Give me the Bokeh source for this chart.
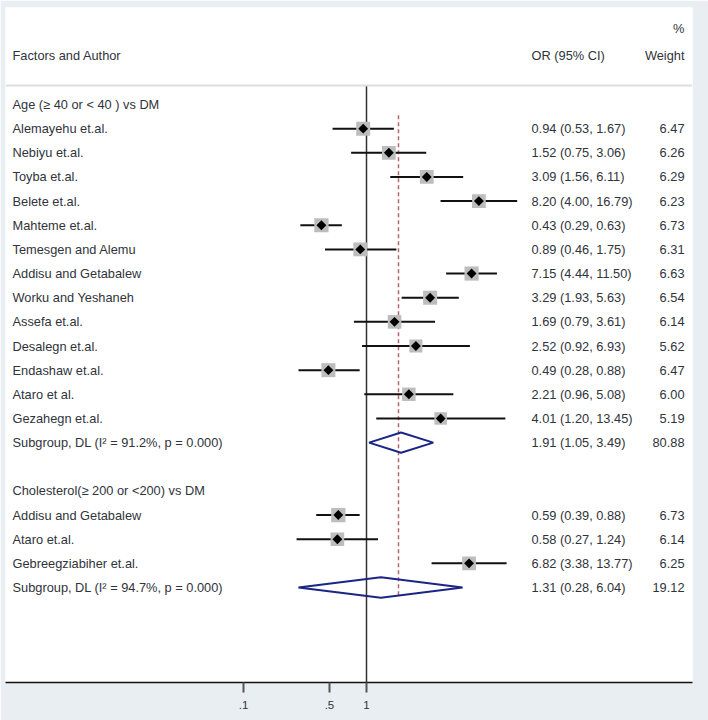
import math
from bokeh.plotting import figure
from bokeh.models import Range1d, FixedTicker, Span, ColumnDataSource, CustomJSTickFormatter
from bokeh.embed import file_html
from bokeh.resources import INLINE
from bokeh.core.properties import value

# ---------------- data ----------------
group_titles = ["Age (\u2265 40 or < 40 ) vs DM", "Cholesterol(\u2265 200 or <200) vs DM"]

age_authors = ["Alemayehu et.al.", "Nebiyu et.al.", "Toyba et.al.", "Belete et.al.",
               "Mahteme et.al.", "Temesgen and Alemu", "Addisu and Getabalew",
               "Worku and Yeshaneh", "Assefa et.al.", "Desalegn et.al.",
               "Endashaw et.al.", "Ataro et al.", "Gezahegn et.al."]
age_or = [0.94, 1.52, 3.09, 8.20, 0.43, 0.89, 7.15, 3.29, 1.69, 2.52, 0.49, 2.21, 4.01]
age_lo = [0.53, 0.75, 1.56, 4.00, 0.29, 0.46, 4.44, 1.93, 0.79, 0.92, 0.28, 0.96, 1.20]
age_hi = [1.67, 3.06, 6.11, 16.79, 0.63, 1.75, 11.50, 5.63, 3.61, 6.93, 0.88, 5.08, 13.45]
age_wt = [6.47, 6.26, 6.29, 6.23, 6.73, 6.31, 6.63, 6.54, 6.14, 5.62, 6.47, 6.00, 5.19]

chol_authors = ["Addisu and Getabalew", "Ataro et.al.", "Gebreegziabiher et.al."]
chol_or = [0.59, 0.58, 6.82]
chol_lo = [0.39, 0.27, 3.38]
chol_hi = [0.88, 1.24, 13.77]
chol_wt = [6.73, 6.14, 6.25]

subgroup_labels = ["Subgroup, DL (I\u00b2 = 91.2%, p = 0.000)",
                   "Subgroup, DL (I\u00b2 = 94.7%, p = 0.000)"]
subgroup_or = [1.91, 1.31]
subgroup_lo = [1.05, 0.28]
subgroup_hi = [3.49, 6.04]
subgroup_wt = [80.88, 19.12]

overall_or = 1.82

tick_values = [0.1, 0.5, 1]
tick_labels = [".1", ".5", "1"]

# ---------------- layout helpers ----------------
PX_ONE = 366.0      # image x of OR = 1
PX_DEC = 123.0      # pixels per decade
def px_to_or(px):
    return 10 ** ((px - PX_ONE) / PX_DEC)

ROW0_Y = 104.0
ROW_H = 24.15
def py_to_row(py):
    return (py - ROW0_Y) / ROW_H

FRAME_L, FRAME_R = 5, 692
FRAME_T, FRAME_B = 7, 682
TOTAL_W, TOTAL_H = 708, 720
y_top = py_to_row(FRAME_T)
y_bot = py_to_row(FRAME_B)

TXT_FONT = value("Liberation Sans")
TXT_SIZE = "12.8px"
TXT_COL = "#30343a"

# build rows
groups = [
    (group_titles[0], age_authors, age_or, age_lo, age_hi, age_wt),
    (group_titles[1], chol_authors, chol_or, chol_lo, chol_hi, chol_wt),
]
st = dict(label=[], y=[], est=[], lo=[], hi=[], wt=[], ortxt=[], wttxt=[], size=[])
hdr = dict(label=[], y=[])
sub = dict(label=[], y=[], est=[], lo=[], hi=[], ortxt=[], wttxt=[])
row = 0
for gi, (title, authors, ors, los, his, wts) in enumerate(groups):
    hdr["label"].append(title); hdr["y"].append(row); row += 1
    for a, o, l, h, w in zip(authors, ors, los, his, wts):
        st["label"].append(a); st["y"].append(row)
        st["est"].append(o); st["lo"].append(l); st["hi"].append(h); st["wt"].append(w)
        st["ortxt"].append(f"{o:.2f} ({l:.2f}, {h:.2f})")
        st["wttxt"].append(f"{w:.2f}")
        st["size"].append(14 * math.sqrt(w / 6.5))
        row += 1
    sub["label"].append(subgroup_labels[gi]); sub["y"].append(row)
    sub["est"].append(subgroup_or[gi]); sub["lo"].append(subgroup_lo[gi]); sub["hi"].append(subgroup_hi[gi])
    sub["ortxt"].append(f"{subgroup_or[gi]:.2f} ({subgroup_lo[gi]:.2f}, {subgroup_hi[gi]:.2f})")
    sub["wttxt"].append(f"{subgroup_wt[gi]:.2f}")
    row += 2

st_src = ColumnDataSource(st)
sub_src = ColumnDataSource(sub)

p = figure(x_axis_type="log",
           x_range=Range1d(px_to_or(FRAME_L), px_to_or(FRAME_R)),
           y_range=Range1d(y_bot, y_top),
           frame_width=FRAME_R - FRAME_L, frame_height=FRAME_B - FRAME_T,
           min_border_left=FRAME_L, min_border_right=TOTAL_W - FRAME_R,
           min_border_top=FRAME_T, min_border_bottom=TOTAL_H - FRAME_B,
           y_axis_location=None, toolbar_location=None, output_backend="svg",
           background_fill_color="white", border_fill_color="#e8eef2",
           outline_line_color=None)
p.grid.visible = False

# header separator
p.add_layout(Span(location=py_to_row(85), dimension="width", line_color="#d9dfe3", line_width=2))

# null line at OR = 1
p.segment(x0=[1], y0=[py_to_row(85)], x1=[1], y1=[y_bot], line_color="#333333", line_width=1.5)

# overall dashed line
p.segment(x0=[overall_or], y0=[0.45], x1=[overall_or], y1=[20.45],
          line_color="#b5656b", line_width=1.5, line_dash="4 3")

# CI lines
p.segment(x0="lo", y0="y", x1="hi", y1="y", source=st_src, line_color="#111111", line_width=2)
# weight boxes
p.scatter(x="est", y="y", size="size", marker="square", source=st_src,
          fill_color="#bdbdbd", line_color=None)
# point estimates
p.scatter(x="est", y="y", size=7, marker="square", angle=math.pi / 4, source=st_src,
          fill_color="#000000", line_color=None)

# subgroup diamonds
dx, dy = [], []
for e, l, h, y in zip(sub["est"], sub["lo"], sub["hi"], sub["y"]):
    dx.append([l, e, h, e])
    dy.append([y, y - 0.42, y, y + 0.42])
p.patches(xs=dx, ys=dy, fill_color=None, line_color="#1b2585", line_width=2)

# texts
X_LEFT = px_to_or(12)
X_OR = px_to_or(531)
X_WT = px_to_or(684)
common = dict(text_font=TXT_FONT, text_font_size=TXT_SIZE, text_color=TXT_COL, text_baseline="middle")

p.text(x=[X_LEFT], y=[py_to_row(55)], text=["Factors and Author"], text_align="left", **common)
p.text(x=[X_OR], y=[py_to_row(55)], text=["OR (95% CI)"], text_align="left", **common)
p.text(x=[X_WT], y=[py_to_row(55)], text=["Weight"], text_align="right", **common)
p.text(x=[X_WT], y=[py_to_row(28)], text=["%"], text_align="right", **common)

p.text(x=[X_LEFT] * len(hdr["label"]), y=hdr["y"], text=hdr["label"], text_align="left", **common)
p.text(x=X_LEFT, y="y", text="label", source=st_src, text_align="left", **common)
p.text(x=X_OR, y="y", text="ortxt", source=st_src, text_align="left", **common)
p.text(x=X_WT, y="y", text="wttxt", source=st_src, text_align="right", **common)
p.text(x=X_LEFT, y="y", text="label", source=sub_src, text_align="left", **common)
p.text(x=X_OR, y="y", text="ortxt", source=sub_src, text_align="left", **common)
p.text(x=X_WT, y="y", text="wttxt", source=sub_src, text_align="right", **common)

# x axis
ax = p.xaxis[0]
ax.ticker = FixedTicker(ticks=tick_values, minor_ticks=[])
ax.formatter = CustomJSTickFormatter(args=dict(vals=tick_values, labels=tick_labels),
    code="let k=-1; for (let i=0;i<vals.length;i++){ if (Math.abs(vals[i]-tick)<1e-9) k=i; } return k>=0 ? labels[k] : '';")
ax.axis_line_color = "#111111"
ax.axis_line_width = 1.5
ax.major_tick_line_color = "#555555"
ax.major_tick_line_width = 2
ax.major_tick_out = 10
ax.major_tick_in = 0
ax.minor_tick_line_color = None
ax.major_label_standoff = 8
ax.major_label_text_font = "Liberation Sans"
ax.major_label_text_font_size = "11.5px"
ax.major_label_text_color = "#333333"

open("out.html", "w").write(file_html(p, INLINE))
